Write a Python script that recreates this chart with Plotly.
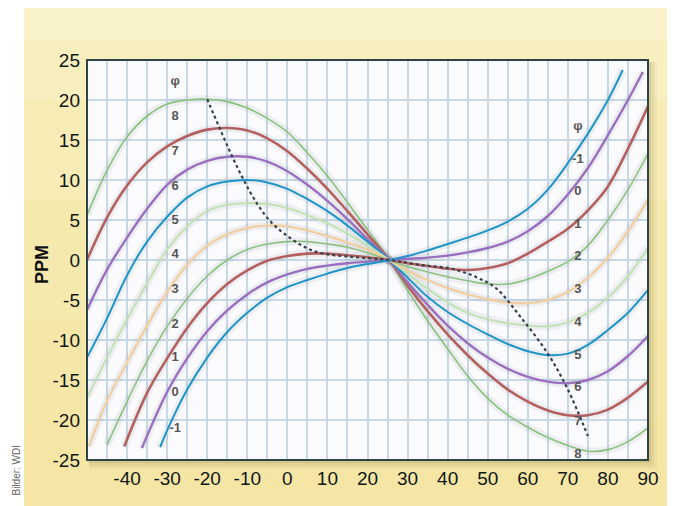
import plotly.graph_objects as go

# ---------------- data ----------------
T_full = [-50, -45, -40, -35, -30, -25, -20, -15, -10, -5, 0, 5, 10, 15, 20, 25,
          30, 35, 40, 45, 50, 55, 60, 65, 70, 75, 80, 85, 90]

ppm_8 = [5.6, 11.2, 15.4, 18.0, 19.5, 20.0, 20.1, 19.8, 19.0, 17.7, 16.0, 13.4, 10.5, 7.2, 3.8, 0.35,
         -3.8, -7.6, -11.1, -14.5, -17.3, -19.4, -20.9, -22.2, -23.2, -23.9, -23.7, -22.7, -21.0]
ppm_7 = [0.0, 5.3, 9.3, 12.2, 14.2, 15.5, 16.3, 16.5, 16.2, 15.2, 13.6, 11.4, 8.9, 6.1, 3.2, 0.3,
         -3.2, -6.4, -9.3, -11.9, -14.2, -16.2, -17.7, -18.8, -19.4, -19.4, -18.7, -17.2, -15.2]
ppm_6 = [-6.25, -1.2, 2.8, 6.4, 9.4, 11.3, 12.4, 12.9, 12.9, 12.3, 11.1, 9.4, 7.4, 5.1, 2.6, 0.25,
         -2.8, -5.6, -8.2, -10.4, -12.2, -13.6, -14.6, -15.2, -15.4, -15.0, -13.9, -12.0, -9.5]
ppm_5 = [-12.2, -7.3, -1.9, 2.3, 5.4, 7.8, 9.2, 9.8, 10.0, 9.7, 8.9, 7.6, 6.1, 4.3, 2.3, 0.2,
         -2.2, -4.6, -6.5, -8.0, -9.3, -10.5, -11.4, -11.9, -11.7, -10.6, -8.75, -6.6, -3.75]
ppm_4 = [-17.2, -12.2, -7.4, -2.9, 1.3, 4.2, 6.1, 6.9, 7.1, 7.0, 6.5, 5.6, 4.6, 3.3, 1.8, 0.15,
         -1.7, -3.6, -5.3, -6.6, -7.4, -7.9, -8.2, -8.3, -7.8, -6.6, -4.7, -2.0, 1.5]

T_3 = [-49.5, -45, -40, -35, -30, -25, -20, -15, -10, -5, 0, 5, 10, 15, 20, 25,
       30, 35, 40, 45, 50, 55, 60, 65, 70, 75, 80, 85, 90]
ppm_3 = [-23.3, -17.6, -12.8, -8.2, -4.0, -0.6, 1.8, 3.2, 4.0, 4.3, 4.2, 3.7, 3.0, 2.2, 1.3, 0.1,
         -1.3, -2.5, -3.5, -4.3, -4.9, -5.3, -5.4, -5.0, -4.0, -2.2, 0.3, 3.6, 7.5]

T_2 = [-45, -40, -35, -30, -25, -20, -15, -10, -5, 0, 5, 10, 15, 20, 25,
       30, 35, 40, 45, 50, 55, 60, 65, 70, 75, 80, 85, 90]
ppm_2 = [-23.1, -17.7, -12.6, -8.3, -4.8, -2.0, 0.0, 1.3, 2.0, 2.3, 2.3, 2.0, 1.6, 0.9, 0.05,
         -0.8, -1.5, -2.1, -2.6, -3.0, -3.0, -2.4, -1.4, -0.2, 1.8, 5.0, 8.8, 13.3]

T_1 = [-40.7, -35, -30, -25, -20, -15, -10, -5, 0, 5, 10, 15, 20, 25,
       30, 35, 40, 45, 50, 55, 60, 65, 70, 75, 80, 85, 90]
ppm_1 = [-23.3, -16.6, -12.3, -8.5, -5.4, -3.0, -1.3, -0.1, 0.5, 0.8, 0.8, 0.6, 0.35, 0.03,
         -0.4, -0.75, -1.1, -1.25, -1.0, -0.4, 0.8, 2.3, 3.9, 6.2, 9.2, 13.9, 19.2]

T_0 = [-36.3, -30, -25, -20, -15, -10, -5, 0, 5, 10, 15, 20, 25,
       30, 35, 40, 45, 50, 55, 60, 65, 70, 75, 80, 85, 88.7]
ppm_0 = [-23.5, -16.5, -12.3, -8.9, -6.3, -4.3, -2.8, -1.8, -1.1, -0.7, -0.4, -0.2, 0.0,
         0.15, 0.3, 0.55, 0.95, 1.5, 2.3, 3.6, 5.5, 8.2, 11.5, 15.6, 20.0, 23.5]

T_m1 = [-31.75, -30, -25, -20, -15, -10, -5, 0, 5, 10, 15, 20, 25,
        30, 35, 40, 45, 50, 55, 60, 65, 70, 75, 80, 83.7]
ppm_m1 = [-23.4, -21.3, -16.2, -12.2, -9.0, -6.6, -4.7, -3.4, -2.5, -1.7, -1.0, -0.5, -0.05,
          0.5, 1.2, 2.0, 2.8, 3.7, 4.8, 6.4, 8.8, 12.1, 15.8, 20.0, 23.75]

# locus of turning points (dotted)
T_locus = [-20, -17, -14, -11, -7.5, -4, 0, 4, 8, 16, 25.5, 33, 41, 47, 52, 58, 65, 70, 75]
ppm_locus = [20.1, 16.6, 13.2, 10.1, 7.0, 4.7, 3.0, 1.7, 0.9, 0.4, 0.0, -0.6, -1.1, -2.1, -3.5,
             -7.0, -11.7, -16.2, -22.0]

curve_names = ["8", "7", "6", "5", "4", "3", "2", "1", "0", "-1"]

# angle labels: left column and right column
left_labels = ["φ", "8", "7", "6", "5", "4", "3", "2", "1", "0", "-1"]
left_label_ppm = [22.3, 17.9, 13.5, 9.1, 4.9, 0.6, -3.75, -8.1, -12.25, -16.6, -21.1]
left_label_T = -28
right_labels = ["φ", "-1", "0", "1", "2", "3", "4", "5", "6", "7", "8"]
right_label_ppm = [16.6, 12.5, 8.5, 4.4, 0.4, -3.75, -7.9, -12.0, -16.0, -20.25, -24.4]
right_label_T = 72.5

x_tick_vals = [-40, -30, -20, -10, 0, 10, 20, 30, 40, 50, 60, 70, 80, 90]
y_tick_vals = [-25, -20, -15, -10, -5, 0, 5, 10, 15, 20, 25]

# ---------------- styling ----------------
series = [
    (T_full, ppm_8, "#88c27b", 1.6),
    (T_full, ppm_7, "#b4605e", 2.6),
    (T_full, ppm_6, "#9a6fbf", 2.4),
    (T_full, ppm_5, "#1d95c6", 2.0),
    (T_full, ppm_4, "#c2e1b2", 2.0),
    (T_3, ppm_3, "#f0cfa2", 2.4),
    (T_2, ppm_2, "#8cc27e", 1.6),
    (T_1, ppm_1, "#b4605e", 2.6),
    (T_0, ppm_0, "#9a6fbf", 2.4),
    (T_m1, ppm_m1, "#1d95c6", 2.0),
]

fig = go.Figure()

# soft halos under the curves
for (xs, ys, col, w) in series:
    fig.add_trace(go.Scatter(x=xs, y=ys, mode="lines", line=dict(color="rgba(120,130,150,0.10)",
                             width=8, shape="spline", smoothing=1.0), hoverinfo="skip",
                             showlegend=False))

for name, (xs, ys, col, w) in zip(curve_names, series):
    fig.add_trace(go.Scatter(x=xs, y=ys, mode="lines", name=name,
                             line=dict(color=col, width=w, shape="spline", smoothing=1.0),
                             showlegend=False))

fig.add_trace(go.Scatter(x=T_locus, y=ppm_locus, mode="lines",
                         line=dict(color="#34404b", width=2.2, dash="dot", shape="spline",
                                   smoothing=1.0),
                         showlegend=False))

label_font = dict(family="Liberation Sans, Arial", size=13, color="#555555", weight="bold")
fig.add_trace(go.Scatter(x=[left_label_T] * len(left_labels), y=left_label_ppm, mode="text",
                         text=left_labels, textposition="middle center", textfont=label_font,
                         showlegend=False, cliponaxis=False))
fig.add_trace(go.Scatter(x=[right_label_T] * len(right_labels), y=right_label_ppm, mode="text",
                         text=right_labels, textposition="middle center", textfont=label_font,
                         showlegend=False, cliponaxis=False))

# ---------------- layout ----------------
# the page puts the figure 8 px in from the top-left corner
OFF = 8
L, R, T, B = 79, 27, 52, 46
W, H = 667, 498
pw, ph = W - L - R, H - T - B


def px_x(px):
    return (px - OFF - L) / pw


def px_y(py):
    return (H - B - (py - OFF)) / ph


shapes = []
bands = ["#f9f2c9", "#f8efbf", "#f7ecb6", "#f6e9ae", "#f5e7a8", "#f5e6a6"]
y_edges = [8, 40, 100, 200, 320, 420, 506]
for i, c in enumerate(bands):
    shapes.append(dict(type="rect", xref="paper", yref="paper", layer="below",
                       x0=px_x(24), x1=px_x(676), y0=px_y(y_edges[i + 1]), y1=px_y(y_edges[i]),
                       fillcolor=c, line=dict(width=0)))
for k, a in [(9, 0.06), (6, 0.08), (3, 0.12)]:
    shapes.append(dict(type="rect", xref="paper", yref="paper", layer="below",
                       x0=px_x(89), x1=px_x(648 + k), y0=px_y(460 + k), y1=px_y(62),
                       fillcolor=f"rgba(110,95,40,{a})", line=dict(width=0)))
shapes.append(dict(type="rect", xref="paper", yref="paper", layer="below",
                   x0=0, x1=1, y0=0, y1=1, fillcolor="#fbfbfd", line=dict(width=0)))
shapes.append(dict(type="rect", xref="paper", yref="paper", layer="above",
                   x0=0, x1=1, y0=0, y1=1, fillcolor="rgba(0,0,0,0)",
                   line=dict(color="#2f4446", width=2)))

grid_col = "#c8d8e6"
tick_font = dict(family="Liberation Sans, Arial", size=19, color="#111818")

fig.update_layout(
    width=W, height=H,
    margin=dict(l=L, r=R, t=T, b=B, pad=0),
    paper_bgcolor="white",
    plot_bgcolor="#fbfbfd",
    shapes=shapes,
    xaxis=dict(range=[-50, 90], tickmode="array", tickvals=x_tick_vals,
               ticktext=[str(v) for v in x_tick_vals], showgrid=True, gridcolor=grid_col,
               gridwidth=1.5, zeroline=False, showline=False, ticks="",
               tickfont=tick_font, ticklabelstandoff=5,
               minor=dict(tickmode="linear", tick0=-50, dtick=5, showgrid=True,
                          gridcolor=grid_col, gridwidth=1.5)),
    yaxis=dict(range=[-25, 25], tickmode="array", tickvals=y_tick_vals,
               ticktext=[str(v) for v in y_tick_vals], showgrid=True, gridcolor=grid_col,
               gridwidth=1.5, zeroline=False, showline=False, ticks="",
               tickfont=tick_font, ticklabelstandoff=6),
    annotations=[
        dict(text="<b>PPM</b>", xref="paper", yref="paper", x=px_x(42), y=px_y(265),
             xanchor="center", yanchor="middle",
             showarrow=False, textangle=-90, font=dict(family="Liberation Sans, Arial",
                                                        size=18, color="#111111")),
        dict(text="Bilder: WDI", xref="paper", yref="paper", x=px_x(9), y=px_y(470),
             xanchor="left", yanchor="middle",
             showarrow=False, textangle=-90,
             font=dict(family="Liberation Sans Narrow, Liberation Sans, Arial", size=10,
                       color="#666666")),
    ],
)

fig.write_html("out.html")
